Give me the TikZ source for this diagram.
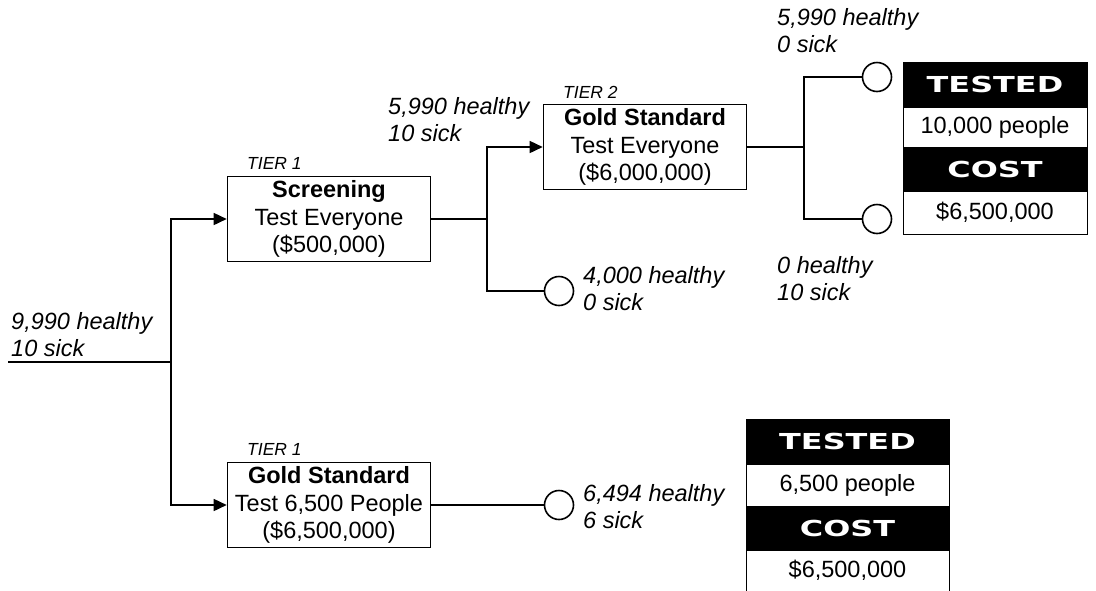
\documentclass[tikz,border=0pt]{standalone}
\usepackage{fontspec}
\setmainfont{Liberation Sans}
\newfontfamily\headfont{DejaVu Sans}
\usetikzlibrary{arrows.meta}

\tikzset{
  wire/.style={line width=1.6pt},
  flow/.style={wire, -{Triangle[length=13pt,width=12pt]}},
  stage/.style={draw, line width=1.6pt, minimum width=203pt, minimum height=85pt,
    inner sep=0pt, align=center, font=\fontsize{23.5}{27.5}\selectfont},
  tier/.style={anchor=west, inner sep=0pt, font=\fontsize{17.5}{19}\selectfont\itshape},
  count/.style={anchor=west, align=left, inner sep=0pt,
    font=\fontsize{23.5}{27}\selectfont\itshape},
  outcome/.style={draw, circle, line width=1.6pt, minimum size=29pt, inner sep=0pt, fill=white},
  headcell/.style={fill=black, draw=black, line width=1pt, inner sep=0pt, text=white,
    font=\headfont\bfseries\fontsize{22}{24}\selectfont},
  valcell/.style={fill=white, draw=black, line width=1pt, inner sep=0pt,
    font=\fontsize{23.5}{26}\selectfont},
}

\newcommand{\headtext}[1]{\scalebox{1.45}[1]{#1}}

\begin{document}
\begin{tikzpicture}[x=1pt, y=-1pt]
  \useasboundingbox (0,0) rectangle (1096,590);

  % decision stages
  \node[stage] (scr) at (329,219) {\textbf{Screening}\\Test Everyone\\(\$500,000)};
  \node[stage] (gs2) at (645,147) {\textbf{Gold Standard}\\Test Everyone\\(\$6,000,000)};
  \node[stage] (gs1) at (329,505) {\textbf{Gold Standard}\\Test 6,500 People\\(\$6,500,000)};

  \node[tier] (t1a) at (247,163) {TIER 1};
  \node[tier] (t2)  at (563,92)  {TIER 2};
  \node[tier] (t1b) at (247,449) {TIER 1};

  % end points
  \node[outcome] (c1) at (559,291) {};
  \node[outcome] (c2) at (877,77)  {};
  \node[outcome] (c3) at (877,219) {};
  \node[outcome] (c4) at (559,505) {};

  % junctions
  \coordinate (root) at (8,362);
  \coordinate (j0) at (171,362);
  \coordinate (j1) at (487,219);
  \coordinate (j2) at (804,147);

  % connectors
  \draw[wire] (root) -- (j0);
  \draw[flow] (j0) |- (scr);
  \draw[flow] (j0) |- (gs1);
  \draw[wire] (scr.east) -- (j1);
  \draw[flow] (j1) |- (gs2);
  \draw[wire] (j1) |- (c1);
  \draw[wire] (gs2.east) -- (j2);
  \draw[wire] (j2) |- (c2);
  \draw[wire] (j2) |- (c3);
  \draw[wire] (gs1.east) -- (c4);

  % population counts
  \node[count] (n0) at (11,335)  {9,990 healthy\\10 sick};
  \node[count] (n1) at (388,120) {5,990 healthy\\10 sick};
  \node[count] (n2) at (583,289) {4,000 healthy\\0 sick};
  \node[count] (n3) at (777,31)  {5,990 healthy\\0 sick};
  \node[count] (n4) at (777,279) {0 healthy\\10 sick};
  \node[count] (n5) at (583,507) {6,494 healthy\\6 sick};

  % summary tables
  \node[headcell, minimum width=184pt, minimum height=45pt] (s1h) at (995,84.5) {\headtext{TESTED}};
  \node[valcell,  minimum width=184pt, minimum height=40pt] (s1v) at (995,127) {10,000 people};
  \node[headcell, minimum width=184pt, minimum height=44pt] (s1c) at (995,169) {\headtext{COST}};
  \node[valcell,  minimum width=184pt, minimum height=43pt] (s1d) at (995,212.5) {\$6,500,000};

  \node[headcell, minimum width=203pt, minimum height=45pt] (s2h) at (847.5,441.5) {\headtext{TESTED}};
  \node[valcell,  minimum width=203pt, minimum height=42pt] (s2v) at (847.5,485) {6,500 people};
  \node[headcell, minimum width=203pt, minimum height=44pt] (s2c) at (847.5,528) {\headtext{COST}};
  % last cell runs past the lower edge of the page
  \node[valcell,  minimum width=203pt, minimum height=60pt, anchor=north] (s2d) at (847.5,550) {};
  \node[inner sep=0pt, font=\fontsize{23.5}{26}\selectfont] (s2t) at (847.5,570) {\$6,500,000};
\end{tikzpicture}
\end{document}
